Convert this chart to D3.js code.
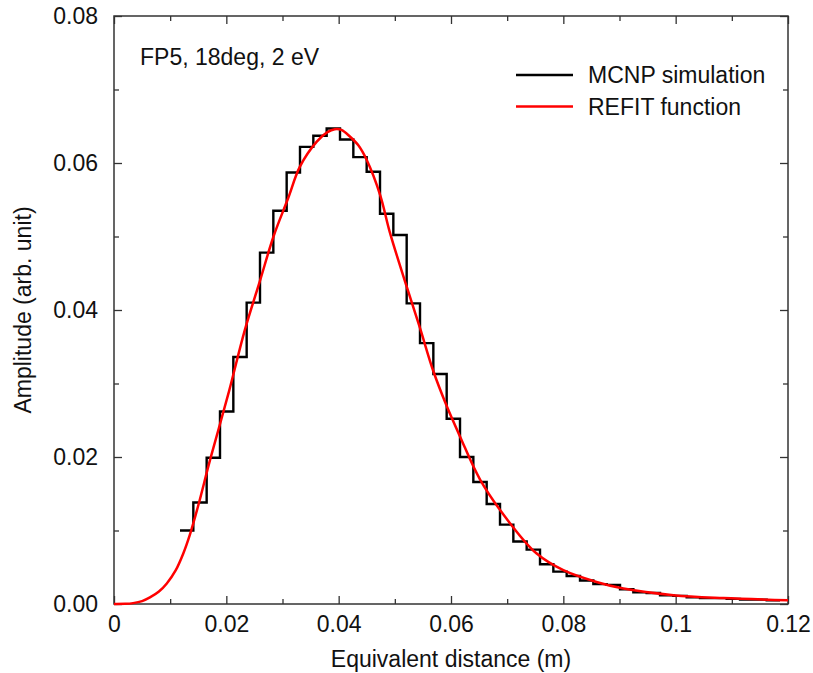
<!DOCTYPE html>
<html><head><meta charset="utf-8">
<script src="https://cdn.jsdelivr.net/npm/d3@7"></script>
<style>
body{margin:0;background:#fff}
text{font-family:"Liberation Sans",Arial,Helvetica,sans-serif;fill:#111}
</style>
</head><body>
<svg id="chart" width="813" height="673"></svg>
<script>
// ---- data ----
const xMajorTicks = [0, 0.02, 0.04, 0.06, 0.08, 0.1, 0.12];
const xTickLabels = ["0", "0.02", "0.04", "0.06", "0.08", "0.1", "0.12"];
const xMinorTicks = [0.01, 0.03, 0.05, 0.07, 0.09, 0.11];
const yMajorTicks = [0, 0.02, 0.04, 0.06, 0.08];
const yTickLabels = ["0.00", "0.02", "0.04", "0.06", "0.08"];
const yMinorTicks = [0.01, 0.03, 0.05, 0.07];

// MCNP histogram: first bin edge and bin width (m), then bin amplitudes
const binStart = 0.01175;
const binWidth = 0.002374;
const mcnpValues = [
  0.0100, 0.0138, 0.0199, 0.0262, 0.0336, 0.0410, 0.0478, 0.0535, 0.0587, 0.0622,
  0.0637, 0.0647, 0.0632, 0.0608, 0.0588, 0.0531, 0.0502, 0.0409, 0.0355, 0.0313,
  0.0252, 0.0200, 0.0166, 0.0136, 0.0108, 0.0085, 0.0074, 0.0054, 0.0044, 0.0038,
  0.0032, 0.0027, 0.0026, 0.0020, 0.0016, 0.0015, 0.0012, 0.0011, 0.0009, 0.0008,
  0.0008, 0.0007, 0.0006, 0.0006, 0.0005
];

// REFIT function
const refitX = [0, 0.002, 0.0034, 0.005, 0.0064, 0.008, 0.0094, 0.011, 0.0123, 0.0135,
  0.0150, 0.0171, 0.0205, 0.0233, 0.0260, 0.0284, 0.0310, 0.0331, 0.0361, 0.0380,
  0.0393, 0.0405, 0.0420, 0.0435, 0.0450, 0.0474, 0.0491, 0.0521, 0.0545, 0.0568,
  0.0592, 0.0616, 0.0652, 0.0705, 0.0752, 0.0800, 0.0859, 0.0907, 0.0996, 0.1085, 0.1200];
const refitY = [0, 0.00002, 0.00012, 0.0004, 0.0009, 0.0017, 0.0028, 0.0046, 0.0068, 0.0094,
  0.0134, 0.0196, 0.0290, 0.0373, 0.0440, 0.0500, 0.0552, 0.0595, 0.0629, 0.0642,
  0.0646, 0.0645, 0.0636, 0.0624, 0.0604, 0.0556, 0.0506, 0.0432, 0.0375, 0.0318,
  0.0270, 0.0228, 0.0169, 0.0110, 0.0069, 0.0046, 0.0030, 0.0021, 0.0012, 0.0008, 0.0005];

const seriesNames = ["MCNP simulation", "REFIT function"];
const seriesColors = ["#000000", "#ff0000"];
const annotation = "FP5, 18deg, 2 eV";

// ---- layout ----
const L = 114, R = 788, T = 16, B = 604;
const FS = 23;
const svg = d3.select("#chart");
const x = d3.scaleLinear().domain([0, 0.12]).range([L, R]);
const y = d3.scaleLinear().domain([0, 0.08]).range([B, T]);

const axisColor = "#333";
function styleAxis(g) {
  g.select(".domain").remove();
  g.selectAll("line").attr("stroke", axisColor).attr("stroke-width", 1.3);
  g.selectAll("text").attr("font-size", FS).attr("fill", "#111")
    .attr("font-family", '"Liberation Sans",Arial,sans-serif');
}

// bottom
svg.append("g").attr("transform", `translate(0,${B})`)
  .call(d3.axisBottom(x).tickValues(xMajorTicks).tickFormat((d, i) => xTickLabels[i])
    .tickSize(-8).tickSizeOuter(0).tickPadding(12)).call(styleAxis);
svg.append("g").attr("transform", `translate(0,${B})`)
  .call(d3.axisBottom(x).tickValues(xMinorTicks).tickFormat("").tickSize(-5).tickSizeOuter(0)).call(styleAxis);
// top
svg.append("g").attr("transform", `translate(0,${T})`)
  .call(d3.axisTop(x).tickValues(xMajorTicks).tickFormat("").tickSize(-8).tickSizeOuter(0)).call(styleAxis);
svg.append("g").attr("transform", `translate(0,${T})`)
  .call(d3.axisTop(x).tickValues(xMinorTicks).tickFormat("").tickSize(-5).tickSizeOuter(0)).call(styleAxis);
// left
svg.append("g").attr("transform", `translate(${L},0)`)
  .call(d3.axisLeft(y).tickValues(yMajorTicks).tickFormat((d, i) => yTickLabels[i])
    .tickSize(-8).tickSizeOuter(0).tickPadding(16)).call(styleAxis);
svg.append("g").attr("transform", `translate(${L},0)`)
  .call(d3.axisLeft(y).tickValues(yMinorTicks).tickFormat("").tickSize(-5).tickSizeOuter(0)).call(styleAxis);
// right
svg.append("g").attr("transform", `translate(${R},0)`)
  .call(d3.axisRight(y).tickValues(yMajorTicks).tickFormat("").tickSize(-8).tickSizeOuter(0)).call(styleAxis);
svg.append("g").attr("transform", `translate(${R},0)`)
  .call(d3.axisRight(y).tickValues(yMinorTicks).tickFormat("").tickSize(-5).tickSizeOuter(0)).call(styleAxis);

// frame
svg.append("rect").attr("x", L).attr("y", T).attr("width", R - L).attr("height", B - T)
  .attr("fill", "none").attr("stroke", axisColor).attr("stroke-width", 1.5);

// histogram
const histPts = mcnpValues.map((v, i) => [binStart + i * binWidth, v]);
histPts.push([binStart + mcnpValues.length * binWidth, mcnpValues[mcnpValues.length - 1]]);
svg.append("path").datum(histPts)
  .attr("d", d3.line().x(d => x(d[0])).y(d => y(d[1])).curve(d3.curveStepAfter))
  .attr("fill", "none").attr("stroke", seriesColors[0]).attr("stroke-width", 2.4)
  .attr("stroke-linejoin", "miter");

// refit curve
const refitPts = refitX.map((xv, i) => [xv, refitY[i]]);
svg.append("path").datum(refitPts)
  .attr("d", d3.line().x(d => x(d[0])).y(d => y(d[1])).curve(d3.curveCatmullRom.alpha(0.5)))
  .attr("fill", "none").attr("stroke", seriesColors[1]).attr("stroke-width", 2.5);

// axis titles
svg.append("text").attr("x", (L + R) / 2).attr("y", 667).attr("text-anchor", "middle")
  .attr("font-size", FS).text("Equivalent distance (m)");
svg.append("text").attr("transform", `translate(31,${(T + B) / 2}) rotate(-90)`)
  .attr("text-anchor", "middle").attr("font-size", FS).text("Amplitude (arb. unit)");

// annotation
svg.append("text").attr("x", 140).attr("y", 65).attr("font-size", FS).text(annotation);

// legend
const legY = [75, 106.5];
seriesNames.forEach((name, i) => {
  svg.append("line").attr("x1", 516).attr("x2", 573).attr("y1", legY[i]).attr("y2", legY[i])
    .attr("stroke", seriesColors[i]).attr("stroke-width", 2.4);
  svg.append("text").attr("x", 588).attr("y", legY[i] + 8.3).attr("font-size", FS).text(name);
});
</script>
</body></html>
